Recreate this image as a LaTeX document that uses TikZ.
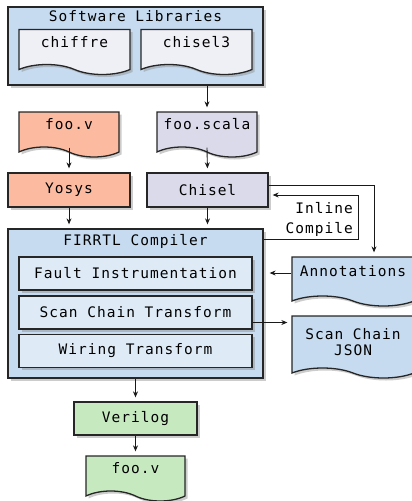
\documentclass[tikz,border=0pt]{standalone}
\usepackage{fontspec}
\setmainfont{DejaVu Sans Mono}[LetterSpace=7]
\usepackage{tikz}
\usetikzlibrary{shapes, shapes.symbols, positioning}
\usetikzlibrary{arrows.meta}
\usetikzlibrary{shadows}

\definecolor{libblue}{HTML}{C6DBEF}
\definecolor{passblue}{HTML}{DEEBF7}
\definecolor{srcgray}{HTML}{EFEFF6}
\definecolor{chiselpurple}{HTML}{DADAEB}
\definecolor{yosysred}{HTML}{FCBBA1}
\definecolor{outgreen}{HTML}{C7E9C0}

\tikzset{
	shadowed/.style={drop shadow={shadow xshift=2.5pt, shadow yshift=-2.5pt, opacity=0.4}},
	box/.style={draw=black!85, line width=1.3pt, minimum height=34pt, inner sep=2pt, shadowed},
	doc/.style={tape, tape bend top=none, tape bend bottom=out and in, tape bend height=10pt,
		draw=black!85, line width=1.3pt, inner sep=2pt, text height=10pt, text depth=10pt, shadowed},
	arr/.style={-{Stealth[length=6pt, width=5pt]}, line width=0.9pt, black!90, shorten >=4pt},
}

\begin{document}
\begin{tikzpicture}[x=1pt, y=-1pt, every node/.style={font=\fontsize{14.5}{17}\selectfont}]
	\useasboundingbox (0,0) rectangle (412,501);

	% software libraries
	\node[box, fill=libblue, minimum width=255pt, minimum height=78pt] (swlib) at (135.5,46) {};
	\node[anchor=north, inner sep=1pt] (swlibtitle) at ([yshift=-3pt]swlib.north) {Software Libraries};
	\node[doc, fill=srcgray, minimum width=111pt, minimum height=45pt] (chiffre) at (74.5,47) {chiffre};
	\node[doc, fill=srcgray, minimum width=111pt, minimum height=45pt] (chisel3) at (196.5,47) {chisel3};

	% sources and front ends
	\node[doc, fill=yosysred, minimum width=100pt, minimum height=45pt] (fooin) at (69,129.5) {foo.v};
	\node[doc, fill=chiselpurple, minimum width=100pt, minimum height=45pt] (fooscala) at (207,129.5) {foo.scala};
	\node[box, fill=yosysred, minimum width=122pt] (yosys) at (69,190) {Yosys};
	\node[box, fill=chiselpurple, minimum width=121pt] (chisel) at (207.5,190) {Chisel};

	% firrtl compiler
	\node[box, fill=libblue, minimum width=255pt, minimum height=149pt] (firrtl) at (135.5,303.5) {};
	\node[anchor=north, inner sep=1pt] (firrtltitle) at ([yshift=-5pt]firrtl.north) {FIRRTL Compiler};
	\node[box, fill=passblue, minimum width=233pt, minimum height=33pt] (fault) at (135.5,273.5) {Fault Instrumentation};
	\node[box, fill=passblue, minimum width=233pt, minimum height=33pt] (scan) at (135.5,312.5) {Scan Chain Transform};
	\node[box, fill=passblue, minimum width=233pt, minimum height=33pt] (wiring) at (135.5,351) {Wiring Transform};

	% side files
	\node[doc, fill=libblue, minimum width=122pt, minimum height=49pt] (annot) at (353,276.5) {Annotations};
	\node[doc, fill=libblue, minimum width=122pt, minimum height=62pt, align=center, text height=, text depth=,
		font=\fontsize{14.5}{16}\selectfont] (json) at (353,342) {Scan Chain\\JSON};
	\node[anchor=east, align=right, inner sep=1pt, font=\fontsize{14.5}{20}\selectfont] (inline) at (354,219) {Inline\\Compile};

	% output
	\node[box, fill=outgreen, minimum width=123pt, minimum height=33pt] (verilog) at (135.5,418.5) {Verilog};
	\node[doc, fill=outgreen, minimum width=99pt, minimum height=45pt] (fooout) at (135.5,473.5) {foo.v};

	\draw[arr] (swlib.south -| fooscala.north) -- (fooscala.north);
	\draw[arr] (fooin.south) -- (yosys.north);
	\draw[arr] (fooscala.south) -- (chisel.north);
	\draw[arr] (yosys.south) -- (yosys.south |- firrtl.north);
	\draw[arr] (chisel.south) -- (chisel.south |- firrtl.north);
	\draw[arr] ([yshift=5pt]chisel.east) -| ([xshift=21pt]annot.north);
	\draw[arr] ([yshift=-11pt]firrtl.north east) -- ++(95pt,0) |- ([yshift=-5pt]chisel.east);
	\draw[arr, shorten >=6pt] ([yshift=3.5pt]annot.west) -- ([yshift=3.5pt]annot.west -| firrtl.east);
	\draw[arr] ([yshift=-10pt]scan.east) -- ([yshift=-10pt]scan.east -| json.west);
	\draw[arr] (firrtl.south) -- (verilog.north);
	\draw[arr] (verilog.south) -- (fooout.north);
\end{tikzpicture}
\end{document}
